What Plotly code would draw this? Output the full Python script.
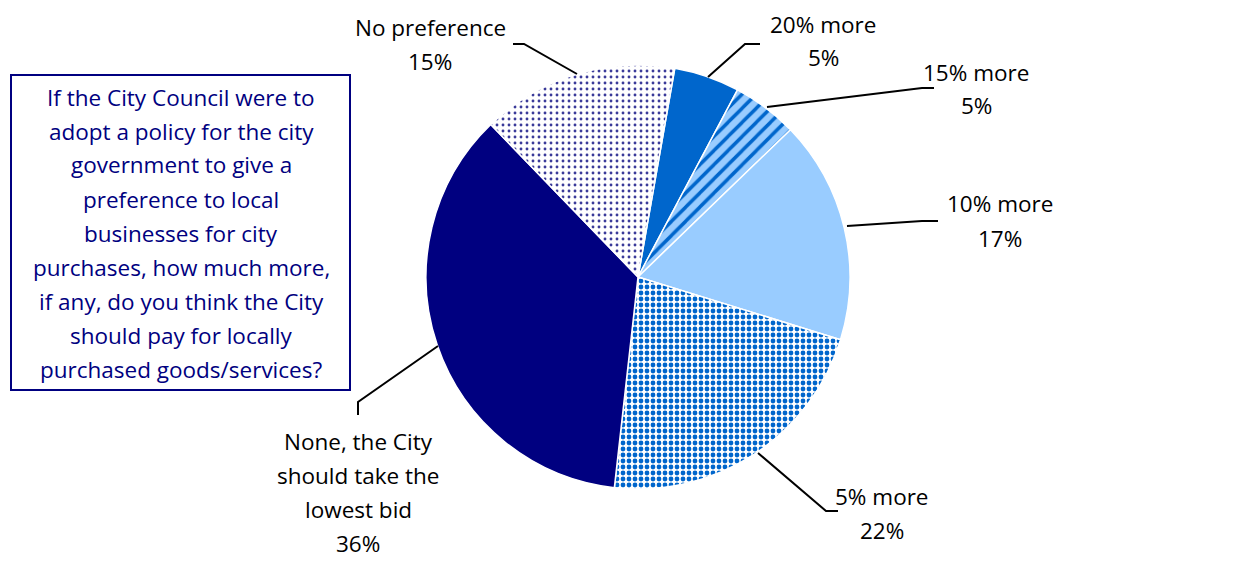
import plotly.graph_objects as go

# data
labels = ["20% more", "15% more", "10% more", "5% more",
          "None, the City should take the lowest bid", "No preference"]
values = [5, 5, 17, 22, 36, 15]
# how each label is broken into lines on the chart
label_lines = [["20% more"], ["15% more"], ["10% more"], ["5% more"],
               ["None, the City", "should take the", "lowest bid"], ["No preference"]]
question = ["If the City Council were to", "adopt a policy for the city",
            "government to give a", "preference to local",
            "businesses for city", "purchases, how much more,",
            "if any, do you think the City", "should pay for locally",
            "purchased goods/services?"]

colors = ["#0066CC", "#99CCFF", "#99CCFF", "#FFFFFF", "#000080", "#FFFFFF"]
shapes_pat = ["", "/", "", ".", "", "."]
fg = ["#0066CC", "#0066CC", "#99CCFF", "#0066CC", "#000080", "#3A3A99"]
bg = ["#0066CC", "#99CCFF", "#99CCFF", "#FFFFFF", "#000080", "#FFFFFF"]
pat_size = [8, 10, 8, 6, 8, 6]
solid = [0.3, 0.35, 0.3, 0.5, 0.3, 0.18]

W, H = 1246, 571
OFF = 8  # page body margin
cx, cy, R = 638, 277, 212
FONT = "Open Sans"
FS = 22.5
LH = 34


def px(x):
    return (x - OFF) / W


def py(y):
    return 1 - (y - OFF) / H


fig = go.Figure(go.Pie(
    labels=labels, values=values, sort=False, direction="clockwise",
    rotation=10, textinfo="none", hoverinfo="label+percent",
    marker=dict(colors=colors, line=dict(color="white", width=1.5),
                pattern=dict(shape=shapes_pat, fgcolor=fg, bgcolor=bg,
                             size=pat_size, solidity=solid)),
    domain=dict(x=[px(cx - R), px(cx + R)], y=[py(cy + R), py(cy - R)]),
    showlegend=False,
))

# label positions (centre x, first line y) and leader lines, in pixels
label_pos = [(823, 24), (976, 72), (1000, 204), (882, 496), (358, 441), (430, 27)]
leaders = [
    [(708, 77), (745, 44), (760, 44)],
    [(767, 107), (922, 88), (934, 88)],
    [(847, 226), (922, 221), (938, 221)],
    [(758, 453), (826, 511), (838, 511)],
    [(438, 346), (358, 402), (358, 415)],
    [(577, 74), (524, 44), (513, 44)],
]

annotations = []
shapes = []
total = sum(values)
for i, lines in enumerate(label_lines):
    x0, y0 = label_pos[i]
    pct = f"{round(values[i] / total * 100)}%"
    for j, t in enumerate(lines + [pct]):
        annotations.append(dict(x=px(x0), y=py(y0 + j * LH), xref="paper", yref="paper",
                                text=t, showarrow=False, xanchor="center", yanchor="middle",
                                font=dict(family=FONT, size=FS, color="black")))
    pts = leaders[i]
    path = "M " + " L ".join(f"{px(a)},{py(b)}" for a, b in pts)
    shapes.append(dict(type="path", xref="paper", yref="paper", path=path,
                       line=dict(color="black", width=2)))

# question box
shapes.append(dict(type="rect", xref="paper", yref="paper",
                   x0=px(11), x1=px(350), y0=py(390), y1=py(75),
                   line=dict(color="#000080", width=2), fillcolor="white"))
for j, t in enumerate(question):
    annotations.append(dict(x=px(181), y=py(97 + j * 34), xref="paper", yref="paper",
                            text=t, showarrow=False, xanchor="center", yanchor="middle",
                            font=dict(family=FONT, size=FS, color="#000080")))

fig.update_layout(width=W, height=H, margin=dict(l=0, r=0, t=0, b=0),
                  paper_bgcolor="white", plot_bgcolor="white",
                  annotations=annotations, shapes=shapes)
fig.write_html("out.html")
